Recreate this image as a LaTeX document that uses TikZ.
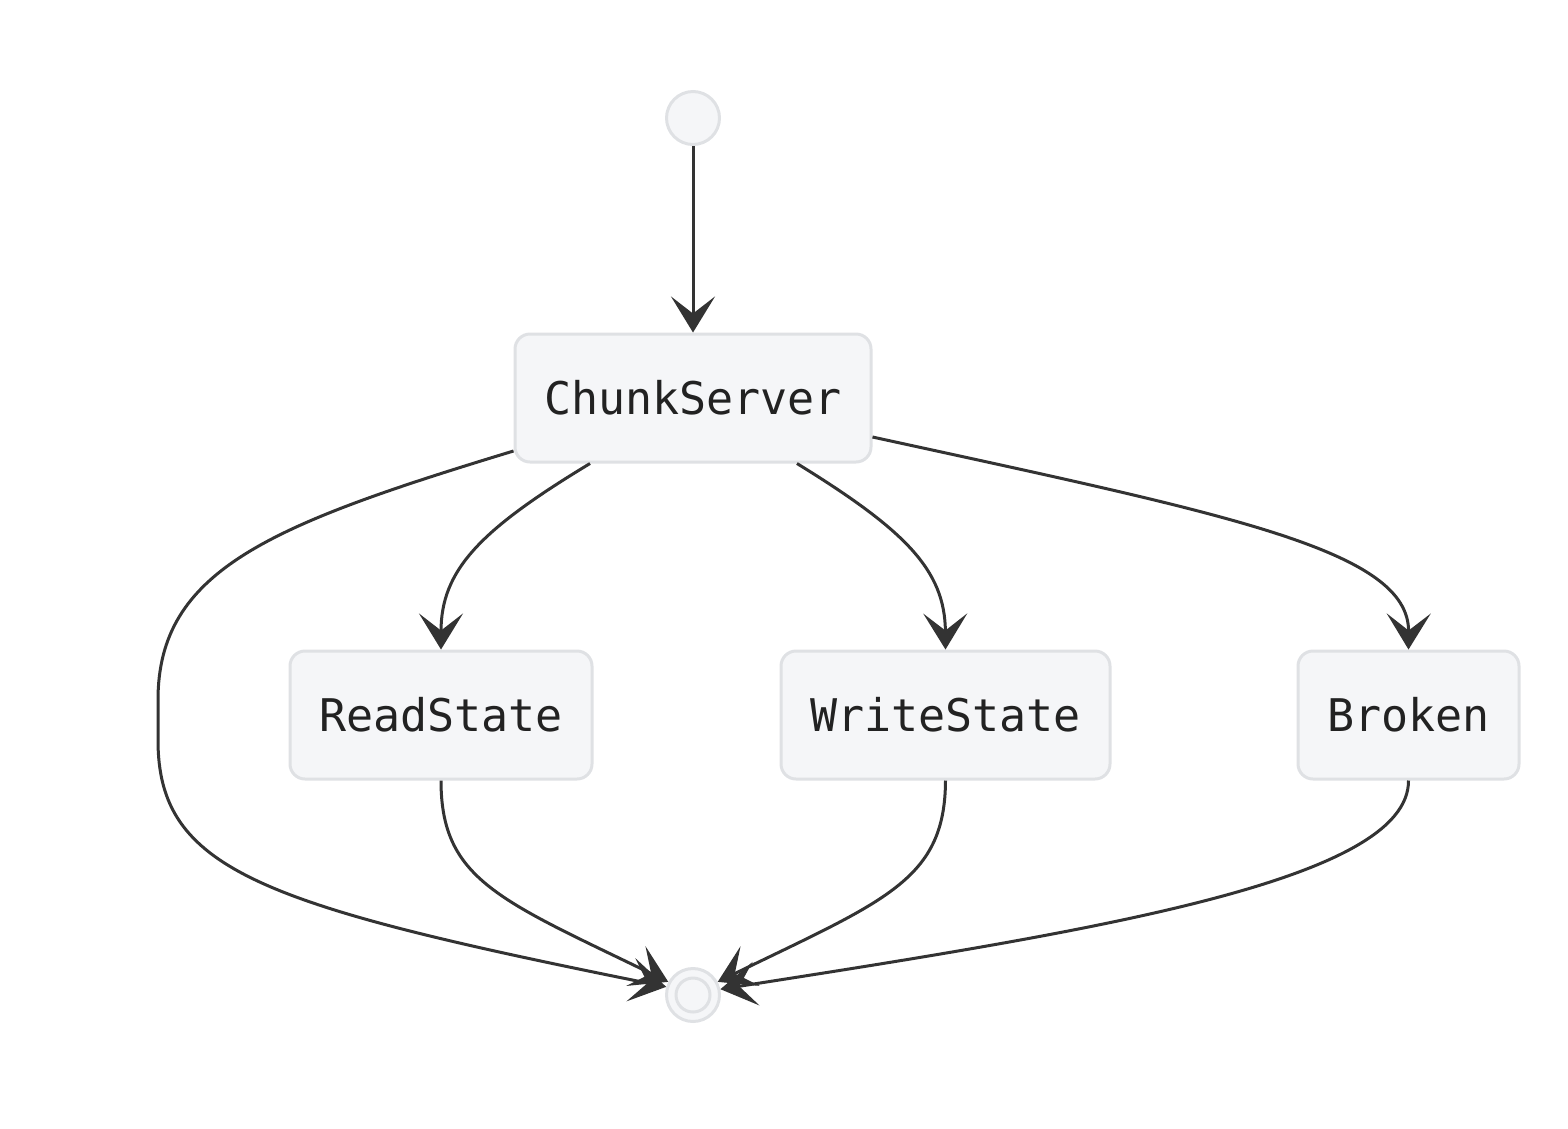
\documentclass[tikz,border=0pt]{standalone}
\usepackage{fontspec}
\setmonofont{DejaVu Sans Mono}
\usetikzlibrary{arrows.meta}
\definecolor{boxfill}{HTML}{F5F6F8}
\definecolor{boxline}{HTML}{DFE1E4}
\definecolor{edgec}{HTML}{333333}
\definecolor{txt}{HTML}{222222}
\begin{document}
\begin{tikzpicture}[x=1pt,y=-1pt,
  statebox/.style={draw=boxline, line width=3pt, fill=boxfill, rounded corners=15pt,
     minimum height=128pt, inner sep=0pt, text=txt,
     font=\ttfamily\fontsize{45}{52}\selectfont},
  startdot/.style={circle, draw=boxline, line width=3pt, fill=boxfill, minimum size=53pt, inner sep=0pt},
  edge/.style={draw=edgec, line width=3pt, -{Stealth[length=36pt,width=44pt,inset=17pt]}}
]
\useasboundingbox (0,0) rectangle (1568,1128);
\node[startdot] (start) at (693,118) {};
\node[statebox, minimum width=356pt] (cs) at (693,398) {ChunkServer};
\node[statebox, minimum width=302pt] (rs) at (441,715) {ReadState};
\node[statebox, minimum width=329pt] (ws) at (945.5,715) {WriteState};
\node[statebox, minimum width=221pt] (br) at (1408.5,715) {Broken};
\node[startdot, minimum size=53pt] (end) at (693,995) {};
\node[circle, draw=boxline, line width=3pt, fill=boxfill, minimum size=34pt, inner sep=0pt] (endin) at (end.center) {};

\draw[edge] (start.south) -- (cs.north);
\draw[edge] ([yshift=-53pt]cs.west) .. controls (270,525) and (158,570) .. (158,700)
   -- (158,740) .. controls (158,870) and (260,905) .. (end.163);
\draw[edge] ([xshift=-103pt]cs.south) .. controls (480,530) and (441,570) .. (rs.north);
\draw[edge] ([xshift=104pt]cs.south) .. controls (905,530) and (945,570) .. (ws.north);
\draw[edge] ([yshift=-39pt]cs.east) .. controls (1230,515) and (1409,550) .. (br.north);
\draw[edge] (rs.south) .. controls (441,880) and (500,900) .. (end.152);
\draw[edge] (ws.south) .. controls (945,880) and (886,900) .. (end.28);
\draw[edge] (br.south) .. controls (1409,880) and (1100,930) .. (end.12);
\end{tikzpicture}
\end{document}
